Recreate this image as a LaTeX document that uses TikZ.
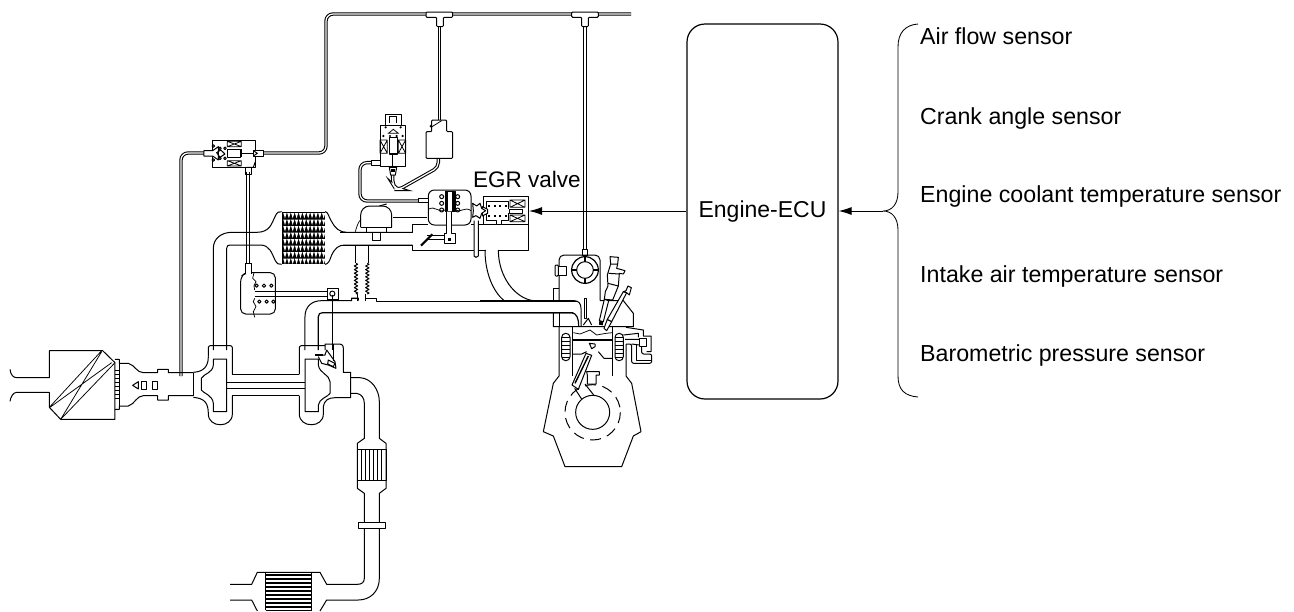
\documentclass[tikz,border=0pt]{standalone}
\usepackage{fontspec}
\setmainfont{Liberation Sans}
\usetikzlibrary{arrows.meta,decorations.pathmorphing}
\tikzset{
  zA/.style={shift={(340,0)},x=.33333pt,y=-.33333pt},
  zB/.style={shift={(0,120)},x=.33333pt,y=-.33333pt},
  zC/.style={shift={(480,250)},x=.33333pt,y=-.33333pt},
  zD/.style={shift={(200,340)},x=.33333pt,y=-.33333pt},
  zE/.style={shift={(0,330)},x=.33333pt,y=-.33333pt},
  zF/.style={shift={(280,190)},x=.33333pt,y=-.33333pt},
  zH/.style={shift={(590,250)},x=.33333pt,y=-.33333pt},
  zJ/.style={shift={(370,110)},x=.33333pt,y=-.33333pt},
  ln/.style={draw=black,line width=1pt,line join=round},
  thin1/.style={draw=black,line width=.75pt},
  hose/.style={draw=black,line width=1.05pt,double=white,double distance=1.25pt,rounded corners=7pt},
  fit1/.style={ln,fill=white,rounded corners=1pt},
  lab/.style={anchor=base west,inner sep=0pt,font=\fontsize{23.2}{25}\selectfont},
  ecubox/.style={draw=black,line width=1.2pt,rounded corners=18pt,minimum width=151pt,minimum height=375pt,inner sep=0pt,font=\fontsize{23}{25}\selectfont},
  tip/.style={-{Latex[length=13pt,width=8pt]},line width=1pt}
}
\newcommand{\xbx}[4]{\draw[ln,line width=.8pt] (#1,#2) rectangle (#3,#4) (#1,#2) -- (#3,#4) (#1,#4) -- (#3,#2);}
\begin{document}
\begin{tikzpicture}[x=1pt,y=-1pt]
\useasboundingbox (0,0) rectangle (1294,611);
\fill[white] (0,0) rectangle (1294,611);

% --- vacuum hoses
\draw[hose] (631,14) -- (326,14) -- (326,153) -- (263,153);
\draw[hose] (205,153) -- (181,153) -- (181,376);
\draw[hose] (248,172) -- (248,264);

\begin{scope}[zA]
\draw[hose] (298,75) -- (298,360);
\draw[hose] (735,75) -- (735,750);
\draw[fit1] (258,36) -- (338,36) -- (338,52) -- (310,52) -- (310,80) -- (290,80) -- (290,52) -- (258,52) -- cycle;
\draw[fit1] (695,36) -- (775,36) -- (775,52) -- (745,52) -- (745,80) -- (725,80) -- (725,52) -- (695,52) -- cycle;
% EGR valve
\draw[hose,rounded corners=7pt] (100,488) -- (60,488) -- (60,603) -- (238,603);
\draw[ln,fill=white,rounded corners=6pt] (265,570) rectangle (393,675);
\draw[ln,fill=white] (235,595) rectangle (265,608);
\draw[ln,fill=black] (315,575) rectangle (322,635);
\draw[ln,fill=black] (338,575) rectangle (345,635);
\draw[ln] (315,575) -- (345,575) (315,635) -- (345,635);
\draw[thin1] (265,628) .. controls (285,615) and (295,640) .. (315,630);
\draw[thin1] (345,630) .. controls (362,640) and (375,618) .. (393,632);
\foreach \y in {590,610,630} { \draw[ln] (305,\y) circle (2pt); \draw[ln] (353,\y) circle (2pt);}
% dome
\draw[ln] (118,618) -- (140,612);
\draw[ln,fill=white,rounded corners=9pt] (62,682) -- (62,618) -- (155,618) -- (155,682);
\draw[ln] (62,682) -- (155,682);
\draw[ln] (160,652) -- (262,652);
% throttle body
\draw[ln] (0,697) -- (218,697) -- (218,673) -- (265,673);
\draw[ln] (0,735) -- (218,735) -- (218,752) -- (437,752) (477,752) -- (565,752) -- (565,590);
\draw[ln] (393,673) -- (470,673) (485,673) -- (565,673);
% EGR solenoid
\draw[ln,fill=white] (430,590) rectangle (565,673);
\draw[ln,fill=white] (470,673) -- (470,660) -- (440,660) -- (440,605) -- (505,605) -- (505,628) (505,640) -- (505,660) -- (485,660) -- (485,673);
\xbx{510}{600}{555}{622}
\xbx{510}{645}{555}{665}
\draw[ln] (508,628) rectangle (548,640);
\draw[line width=1.2pt,dash pattern=on 2pt off 3.5pt] (445,618) -- (500,618) (445,648) -- (500,648);
\draw[ln,fill=white] (427,620) -- (443,628) -- (443,640) -- (427,648) -- cycle;
\draw[ln,fill=white] (398,610) -- (410,618) -- (420,610) -- (425,625) -- (437,632) -- (425,640) -- (420,655) -- (408,647) -- (398,652) -- (400,632) -- cycle;
% EGR passage
\draw[ln,fill=white] (402,662) -- (402,768) -- (408,772) -- (415,768) -- (415,662);
% rod + throttle
\draw[ln,fill=white] (320,635) -- (320,700) -- (312,700) -- (312,730) -- (345,730) -- (345,700) -- (335,700) -- (335,635);
\fill (325,715) rectangle (333,722);
\draw[ln] (262,705) -- (312,705) -- (312,718) -- (265,718);
\draw[line width=2.2pt] (243,737) -- (277,703);
\end{scope}

% --- vacuum switch and solenoid
\begin{scope}[zJ]
\draw[hose,rounded corners=5pt] (205,142) -- (205,172) -- (88,238) -- (78,238) -- (68,222) -- (68,195);
\draw[fit1] (168,65) -- (185,65) -- (185,30) -- (230,30) -- (230,65) -- (248,65) -- (248,145) -- (168,145) -- cycle;
\draw[thin1] (183,52) -- (215,32);
\fill (183,48) circle (1.5pt);
\draw[ln,fill=white] (30,45) rectangle (107,150);
\draw[ln,fill=white] (30,150) -- (30,170) -- (107,170) -- (107,150);
\draw[ln] (45,45) -- (45,12) -- (95,12) -- (95,45);
\draw[ln] (58,38) -- (58,20) -- (80,20) -- (80,38);
\xbx{30}{90}{52}{130}
\xbx{85}{90}{107}{130}
\draw[ln,line width=1.3pt,fill=white] (58,82) rectangle (82,132);
\draw[thin1] (55,70) -- (70,58) -- (85,70) -- cycle;
\foreach \p in {(47,52),(92,52),(40,78),(98,78),(60,78),(80,78)} \fill \p circle (1.2pt);
\draw[ln,fill=white] (30,150) -- (5,150) -- (5,165) -- (30,165);
\draw[ln] (68,132) -- (68,172);
\draw[ln,fill=white] (58,172) -- (80,172) -- (76,195) -- (62,195) -- cycle;
\fill (64,178) rectangle (74,186);
\end{scope}

% --- intercooler
\begin{scope}[zB]
\draw[ln] (640,690) -- (640,385) .. controls (640,355) and (665,337) .. (695,337) -- (770,337)
  .. controls (810,337) and (815,310) .. (825,290) .. controls (832,275) and (835,275) .. (845,275);
\draw[ln] (680,690) -- (680,385) .. controls (680,378) and (684,375) .. (690,375) -- (780,375)
  .. controls (810,375) and (815,400) .. (825,420) .. controls (832,433) and (835,433) .. (845,433);
\fill (845,275) rectangle (975,433);
\foreach \r in {0,...,7}{
  \foreach \c in {0,...,10}{
    \fill[white] ({850+\c*11.6},{279+\r*19.6}) -- ({860+\c*11.6},{279+\r*19.6}) -- ({855+\c*11.6},{295+\r*19.6}) -- cycle;
  }
}
\draw[ln] (975,275) .. controls (985,275) and (985,290) .. (995,305) .. controls (1005,325) and (1020,337) .. (1040,337) -- (1238,337);
\draw[ln] (975,433) .. controls (985,433) and (990,420) .. (995,405) .. controls (1005,385) and (1015,375) .. (1035,375) -- (1238,375);
% actuator
\draw[ln,fill=white,rounded corners=5pt] (722,582) -- (722,470) -- (737,458) -- (826,458) -- (826,582) -- cycle;
\draw[ln,fill=white] (738,462) -- (738,430) -- (756,430) -- (756,462);
\draw[thin1] (762,458) -- (758,475) -- (768,485) -- (762,497) -- (764,510) (764,535) -- (760,545) -- (768,560) -- (760,575) -- (764,592);
\foreach \x in {770,792,814} \draw[ln] (\x,497) circle (1.7pt);
\foreach \x in {778,800,820} \draw[ln] (\x,545) circle (1.7pt);
\draw[ln] (764,513) -- (983,513) (764,530) -- (983,530);
\draw[ln,fill=white] (983,505) rectangle (1015,540);
\draw[ln] (997,521) circle (2.6pt);
\draw[line width=1.8pt] (983,540) -- (1015,540);
\draw[ln] (998,525) -- (998,690);
% lower pipe begins
\draw[ln] (915,690) -- (915,590) .. controls (915,560) and (935,542) .. (965,542) -- (1055,542) -- (1055,534) -- (1075,534) -- (1075,542);
\draw[ln,line width=1.2pt] (955,690) -- (955,590) .. controls (955,582) and (960,578) .. (968,578) -- (1720,578);
\end{scope}

\begin{scope}[zF]
\draw[ln] (213,333) -- (213,324) -- (233,324) -- (233,333);
\draw[ln] (257,333) -- (257,324) -- (290,324) -- (290,333) -- (890,333);
\draw[ln] (225,167) -- (225,220) (265,167) -- (265,220);
\draw[ln,decorate,decoration={zigzag,segment length=3.6pt,amplitude=1.7pt}] (228,220) -- (228,312);
\draw[ln,decorate,decoration={zigzag,segment length=3.6pt,amplitude=1.7pt}] (262,220) -- (262,312);
\draw[ln] (233,312) -- (233,324) (257,312) -- (257,324);
\draw[ln,fill=white] (278,128) rectangle (300,152);
\draw[ln] (260,112) -- (260,128) (320,112) -- (320,128);
\draw[thin1] (243,88) .. controls (235,95) and (230,110) .. (226,125);
\end{scope}

% --- engine
\begin{scope}[zC]
\draw[ln] (15,0) .. controls (15,70) and (40,125) .. (72,152);
\draw[ln] (55,0) .. controls (55,80) and (105,145) .. (160,152);
\draw[ln,fill=white] (308,-2) rectangle (322,15);
\draw[ln,rounded corners=5pt] (237,150) -- (237,15) -- (360,15) -- (360,152);
\draw[ln] (220,150) -- (220,115) -- (237,115);
\draw[ln] (220,188) -- (220,230) -- (460,230) -- (460,190) -- (430,152) -- (360,152);
\draw[ln] (237,188) -- (237,230);
% intake runner
\draw[ln] (0,152) -- (282,152) .. controls (295,152) and (303,160) .. (303,175) -- (303,228);
\draw[ln,line width=1.2pt] (0,188) -- (275,188) .. controls (290,190) and (296,205) .. (296,228);
% cam
\draw[ln,line width=1.2pt] (315,60) circle (40);
\draw[ln] (315,60) circle (25);
\draw[line width=2.4pt] (315,20) -- (315,35) (315,85) -- (315,100) (275,60) -- (290,60) (340,60) -- (355,60);
\draw[ln,fill=white,rounded corners=1pt] (225,45) rectangle (235,78);
\draw[ln,fill=white] (235,50) rectangle (260,75);
% valve
\draw[ln,fill=white] (312,145) -- (312,205) -- (318,205) -- (318,145) -- cycle;
\draw[ln] (310,225) -- (325,205) -- (335,225);
% block
\draw[ln] (237,230) -- (237,378) -- (220,400) -- (190,545) -- (220,558) -- (255,650) -- (425,650) -- (460,558) -- (483,545) -- (455,400) -- (438,378) -- (438,282);
\draw[ln] (278,230) -- (278,378);
\draw[ln] (398,230) -- (398,378);
\draw[ln,fill=white,rounded corners=4pt] (245,250) rectangle (270,332);
\foreach \y in {262,274,286,298,310,322} \draw[line width=1.3pt] (245,\y) -- (270,\y);
% piston
\draw[line width=2pt] (278,269) -- (398,269);
\draw[thin1] (280,248) -- (300,252) -- (330,240) -- (350,255) -- (378,250) -- (398,248);
\draw[ln] (278,312) -- (305,312) -- (320,305) (355,305) -- (372,325) -- (398,325);
\draw[ln,fill=white] (328,280) -- (345,282) -- (345,290) -- (335,296) -- cycle;
% con-rod
\draw[ln,fill=white] (318,310) -- (335,316) -- (295,418) -- (276,405) -- cycle;
\draw[ln,line width=1.4pt] (285,400) -- (325,318);
\draw[ln,fill=white] (320,365) -- (358,365) -- (358,375) -- (348,375) -- (348,402) -- (322,402) -- (322,375) -- cycle;
\draw[ln] (284,415) -- (310,455) (315,402) -- (345,440);
\draw[ln,fill=white] (338,487) circle (51);
\draw[line width=1pt,dash pattern=on 11pt off 6.5pt] (338,487) circle (83);
\end{scope}

% --- injector, glow plug, right jacket
\begin{scope}[zH]
\draw[ln,fill=white] (28,212) -- (40,215) -- (56,152) -- (43,148) -- cycle;
\fill (28,212) -- (40,215) -- (38,226) -- (27,224) -- cycle;
\draw[ln,fill=white] (43,148) -- (46,125) -- (54,108) -- (52,75) -- (62,42) -- (60,20) -- (85,22) -- (83,42) -- (80,55) -- (105,62) -- (100,72) -- (88,70) -- (85,108) -- (68,150) -- cycle;
\draw[ln] (54,100) -- (85,108) (56,70) -- (88,72) (62,42) -- (83,42);
\draw[ln,fill=white] (42,235) -- (52,208) -- (65,215) -- (50,242) -- cycle;
\draw[ln,fill=white] (52,208) -- (100,125) -- (110,128) -- (65,215) -- cycle;
\draw[ln,fill=white] (100,125) -- (108,122) -- (114,108) -- (124,113) -- (118,135) -- (110,128) -- cycle;
\draw[ln,fill=white,rounded corners=4pt] (75,250) rectangle (100,332);
\foreach \y in {262,274,286,298,310,322} \draw[line width=1.3pt] (75,\y) -- (100,\y);
\draw[ln] (108,232) -- (160,240) -- (160,258) -- (183,258) -- (183,305) -- (170,305);
\draw[ln] (100,255) -- (145,250) -- (145,262) (105,268) -- (148,268);
\draw[ln,fill=white] (148,265) rectangle (170,290);
\draw[ln,rounded corners=2pt] (108,282) -- (125,282) -- (125,340) -- (185,340) -- (185,312) -- (155,312) -- (155,290);
\draw[ln] (140,285) -- (140,330) -- (185,330);
\draw[ln] (125,282) -- (148,285);
\end{scope}

% --- turbo
\begin{scope}[zD]
% compressor
\draw[ln] (97,103) -- (298,103) (97,167) -- (298,167);
\draw[ln] (80,127) -- (315,127) (80,146) -- (315,146);
\draw[ln,rounded corners=2pt] (97,103) -- (97,17) -- (25,17) -- (25,50);
\draw[ln] (25,50) .. controls (25,80) and (10,95) .. (-20,97);
\draw[ln] (40,57) -- (80,57) -- (80,215) -- (40,215) -- (40,190) .. controls (38,165) and (10,160) .. (4,150) -- (4,115) .. controls (12,100) and (38,100) .. (40,75) -- cycle;
\draw[ln] (-20,172) .. controls (15,175) and (25,190) .. (25,222) .. controls (25,265) and (97,265) .. (97,222) -- (97,167);
% turbine
\draw[ln,rounded corners=2pt] (298,103) -- (298,17) -- (375,17);
\draw[ln] (315,57) -- (355,57) -- (355,75) .. controls (358,100) and (390,105) .. (390,125) -- (390,160) .. controls (385,170) and (358,175) .. (355,195) -- (355,215) -- (315,215) -- cycle;
\draw[ln] (298,167) -- (298,222) .. controls (298,265) and (370,265) .. (370,222) -- (370,200) .. controls (372,182) and (385,173) .. (405,173) -- (452,173) -- (452,97) -- (430,97) -- (430,25) .. controls (430,15) and (425,12) .. (415,12) -- (375,12) -- (375,30);
\draw[ln,fill=white] (345,45) -- (375,45) -- (380,30) -- (405,65) -- (408,85) -- (385,75) -- (365,70) -- (355,50);
\draw[ln] (385,60) -- (405,70) -- (400,80) -- (383,72) -- cycle;
\fill (345,42) rectangle (370,48);
\draw[ln] (400,12) -- (400,62);
% exhaust
\draw[ln] (452,113) -- (480,113) .. controls (515,115) and (538,150) .. (538,185) -- (538,295) -- (558,310) -- (558,445) -- (538,460) -- (538,548);
\draw[ln] (452,160) -- (470,160) .. controls (485,162) and (493,175) .. (493,190) -- (493,295) -- (472,310) -- (472,445) -- (493,460) -- (493,548);
\draw[ln] (472,328) rectangle (558,422);
\foreach \x in {485,497,509,521,533,545} \draw[line width=.8pt] (\x,328) -- (\x,422);
\draw[ln,fill=white] (476,548) rectangle (556,565);
\draw[ln] (493,565) -- (493,715) .. controls (493,727) and (485,733) .. (472,733) -- (380,733) -- (360,697) -- (172,697) -- (155,733) -- (90,733);
\draw[ln] (538,565) -- (538,715) .. controls (538,755) and (510,780) .. (475,780) -- (380,780) -- (360,813);
\draw[ln] (90,780) -- (155,780) -- (172,813);
\draw[ln] (197,697) -- (197,811) (335,697) -- (335,811);
\foreach \y in {705,717,729,741,753,765,777,789,801} \draw[line width=1.5pt] (197,\y) -- (335,\y);
\draw[ln] (197,811) -- (335,811);
\end{scope}

% --- air cleaner + duct
\begin{scope}[zE]
\draw[ln] (30,118) .. controls (32,135) and (40,143) .. (50,143) -- (148,143) -- (148,62) -- (308,62) -- (345,98) -- (345,268) -- (182,268) -- (148,232) -- (148,187) -- (50,187) .. controls (40,187) and (32,200) .. (30,214);
\draw[thin1] (148,232) -- (305,62) (182,268) -- (345,98) (150,232) -- (335,98) (182,268) -- (305,65);
\draw[ln] (345,88) -- (358,88) -- (358,100) -- (385,100) .. controls (405,105) and (410,128) .. (430,128) -- (473,128) -- (473,118) -- (505,118) -- (505,128) -- (580,128);
\draw[ln] (345,238) -- (358,238) -- (358,228) -- (385,228) .. controls (405,222) and (410,197) .. (430,197) -- (473,197) -- (473,210) -- (505,210) -- (505,197) -- (580,197);
\draw[ln] (358,100) -- (358,228);
\foreach \y in {122,134,146,158,170,182,194,206} \draw[ln] (345,\y) -- (358,\y);
\draw[ln] (415,155) -- (398,166) -- (415,177) -- cycle;
\draw[ln] (425,155) rectangle (440,177);
\draw[ln] (458,155) rectangle (473,177);
\draw[ln] (580,128) -- (580,197);
\end{scope}

% --- valve on the left
\begin{scope}[zB]
\draw[ln,fill=white] (638,60) rectangle (766,142);
\xbx{682}{64}{724}{80}
\xbx{682}{122}{724}{138}
\draw[ln,fill=white] (612,92) -- (638,92) -- (655,80) -- (655,120) -- (638,108) -- (612,108) -- cycle;
\draw[ln,fill=white] (682,88) rectangle (722,112);
\draw[ln] (722,100) -- (766,100) (725,88) -- (725,112);
\draw[ln] (650,98) -- (662,90) -- (675,102) -- (660,112) -- cycle;
\foreach \p in {(640,78),(675,85),(675,115),(640,120),(660,85),(660,115)} \draw[ln] \p circle (1.3pt);
\draw[ln] (738,142) -- (738,162) -- (756,162) -- (756,142);
\draw[ln,fill=white] (760,92) -- (790,92) -- (790,108) -- (760,108) -- cycle;
\draw[ln] (760,92) -- (772,100) -- (760,108);
\draw[ln] (766,125) -- (760,142) -- (740,142);
\end{scope}

% --- control part
\node[ecubox] (ecu) at (762.5,211.5) {Engine-ECU};
\coordinate (isc) at (529,211);
\coordinate (braceTip) at (883,211);
\draw[tip] (ecu.west |- isc) -- (isc);
\draw[tip] (braceTip) -- (ecu.east |- braceTip);
\draw[ln,line width=.85pt] (918,24) .. controls (905,25) and (898,33) .. (898,47) -- (898,192) .. controls (898,204) and (892,211) .. (883,211) .. controls (892,211) and (898,218) .. (898,230) -- (898,376) .. controls (898,390) and (905,396) .. (918,397);

\node[lab] (s1) at (920,44) {Air flow sensor};
\node[lab] (s2) at (920,124) {Crank angle sensor};
\node[lab] (s3) at (920,202) {Engine coolant temperature sensor};
\node[lab] (s4) at (920,282) {Intake air temperature sensor};
\node[lab] (s5) at (920,361) {Barometric pressure sensor};
\node[lab,font=\fontsize{22.5}{24}\selectfont] (egr) at (473,187) {EGR valve};
\end{tikzpicture}
\end{document}
